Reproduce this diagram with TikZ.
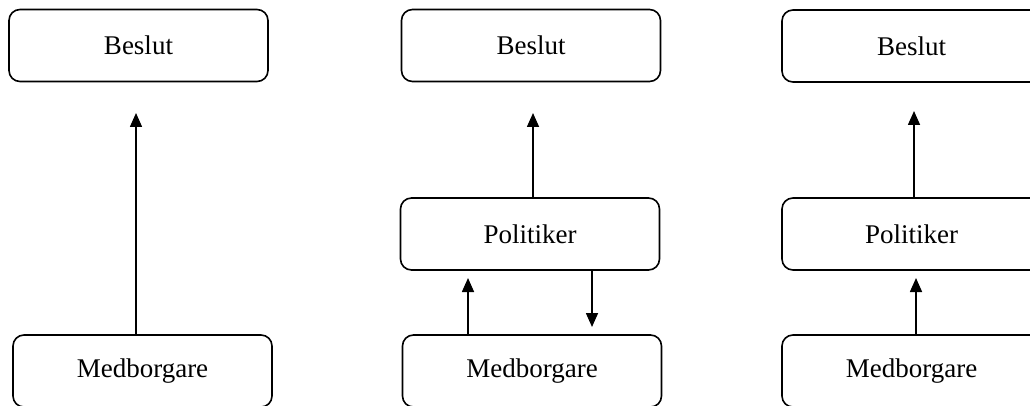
\documentclass[tikz,border=0pt]{standalone}
\usepackage{fontspec}
\setmainfont{Liberation Serif}
\usetikzlibrary{arrows.meta}
\begin{document}
\begin{tikzpicture}[x=1pt,y=-1pt,
  box/.style={draw,line width=1.6pt,rounded corners=11pt,minimum width=259pt,minimum height=72pt,inner sep=0pt,font=\fontsize{27}{31}\selectfont,fill=white},
  arr/.style={line width=1.6pt,-{Triangle[width=12pt,length=14pt]}}]
\useasboundingbox (0,0) rectangle (1030,406);
\clip (0,0) rectangle (1030,406);
% left column
\node[box] (lb) at (138.5,45.5) {Beslut};
\node[box] (lm) at (142.5,371) {Medborgare};
\coordinate (t1) at (136,113);
\draw[arr] (lm.north -| t1) -- (t1);
% middle column
\node[box] (mb) at (531,45.5) {Beslut};
\node[box] (mp) at (530,234) {Politiker};
\node[box] (mm) at (532,371) {Medborgare};
\coordinate (t2) at (533,113);
\coordinate (t3) at (468,278);
\coordinate (t4) at (592,327);
\draw[arr] (mp.north -| t2) -- (t2);
\draw[arr] (mm.north -| t3) -- (t3);
\draw[arr] (mp.south -| t4) -- (t4);
% right column
\node[box] (rb) at (911.5,46) {Beslut};
\node[box] (rp) at (911.5,234) {Politiker};
\node[box] (rm) at (911.5,371) {Medborgare};
\coordinate (t5) at (914,111);
\coordinate (t6) at (916,278);
\draw[arr] (rp.north -| t5) -- (t5);
\draw[arr] (rm.north -| t6) -- (t6);
\end{tikzpicture}
\end{document}
